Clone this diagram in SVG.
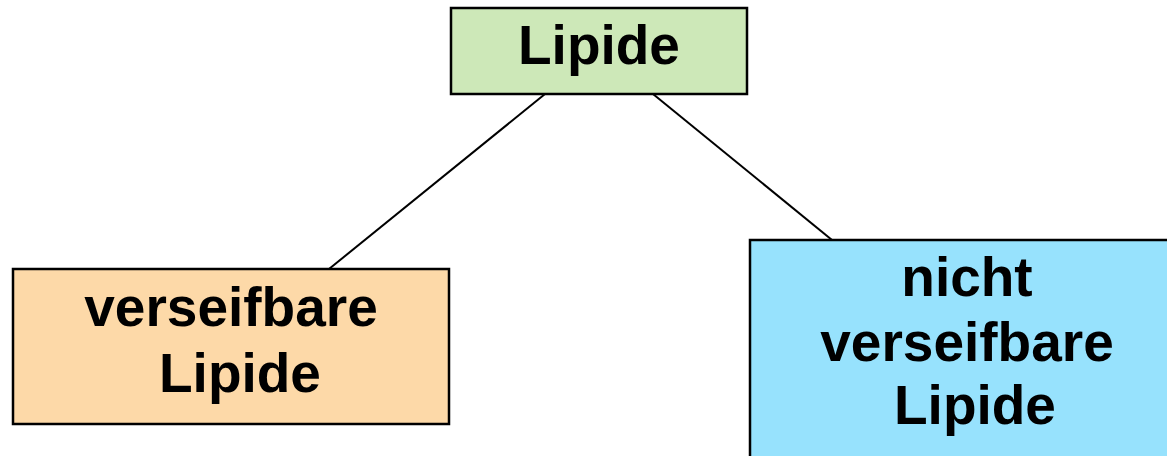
<svg xmlns="http://www.w3.org/2000/svg" width="1167" height="456" viewBox="0 0 1167 456">
  <style>
    .box { stroke: #000; stroke-width: 2.5; }
    .label { font-family: "Liberation Sans", Arial, sans-serif; font-weight: bold; font-size: 55px; text-anchor: middle; fill: #000; }
    .link { stroke: #000; stroke-width: 2; fill: none; }
  </style>
  <rect width="1167" height="456" fill="#fff"/>
  <g id="connectors">
    <line class="link" x1="545" y1="94" x2="329" y2="269"/>
    <line class="link" x1="653" y1="94" x2="832" y2="240"/>
  </g>
  <g id="lipide">
    <rect class="box" x="451" y="8" width="296" height="86" fill="#cde8b8"/>
    <text class="label" x="599" y="64">Lipide</text>
  </g>
  <g id="verseifbare">
    <rect class="box" x="13" y="269" width="436" height="155" fill="#fdd9a8"/>
    <text class="label" x="231" y="326">verseifbare</text>
    <text class="label" x="240" y="392">Lipide</text>
  </g>
  <g id="nicht-verseifbare">
    <rect class="box" x="750" y="240" width="436" height="230" fill="#97e2fd"/>
    <text class="label" x="967" y="296">nicht</text>
    <text class="label" x="967" y="361">verseifbare</text>
    <text class="label" x="975" y="424">Lipide</text>
  </g>
</svg>
